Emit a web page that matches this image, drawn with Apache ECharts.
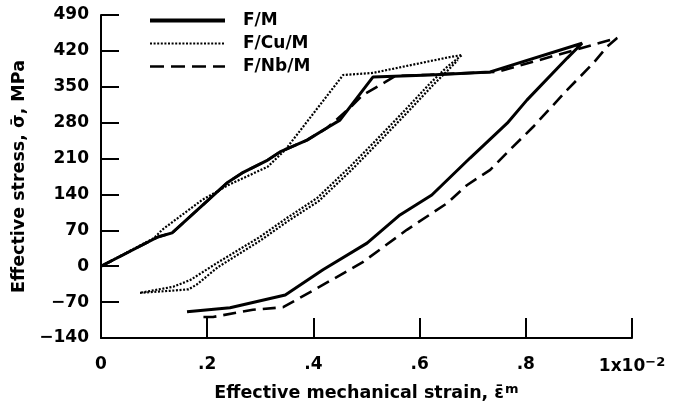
<!DOCTYPE html>
<html>
<head>
<meta charset="utf-8">
<script src="https://cdn.jsdelivr.net/npm/echarts@6/dist/echarts.min.js"></script>
<style>
  html, body { margin: 0; padding: 0; background: #fff; }
  #chart { width: 684px; height: 409px; }
</style>
</head>
<body>
<div id="chart"></div>
<script>
// Stress-strain hysteresis loops for three laminate systems (strain in units of 1e-2).
const seriesNames = ['F/M', 'F/Cu/M', 'F/Nb/M'];

// F/M: loading, then unloading
const fmStrain = [0, 0.107, 0.134, 0.239, 0.266, 0.314, 0.337, 0.388, 0.426, 0.450, 0.512, 0.620, 0.733, 0.906,
                  0.878, 0.802, 0.765, 0.695, 0.623, 0.563, 0.501, 0.418, 0.347, 0.243, 0.162];
const fmStress = [0, 57, 65, 164, 182, 207, 223, 246, 270, 285, 369, 373, 379, 435,
                  406, 324, 279, 211, 139, 100, 45, -7, -56, -81, -89];

// F/Cu/M: loading, unloading, reloading
const cuStrain = [0, 0.100, 0.115, 0.190, 0.239, 0.314, 0.347, 0.456, 0.512, 0.657, 0.680,
                  0.652, 0.620, 0.573, 0.522, 0.469, 0.407, 0.350, 0.299, 0.218, 0.168, 0.136, 0.073,
                  0.130, 0.165, 0.180, 0.220, 0.300, 0.352, 0.410, 0.472, 0.525, 0.576, 0.624, 0.655, 0.672];
const cuStress = [0, 55, 71, 129, 158, 194, 227, 373, 377, 408, 412,
                  389, 357, 305, 250, 194, 133, 94, 57, 6, -27, -40, -52,
                  -48, -45, -36, -2, 50, 88, 127, 188, 244, 299, 352, 384, 402];

// F/Nb/M: loading, then unloading
const nbStrain = [0, 0.107, 0.134, 0.239, 0.266, 0.314, 0.337, 0.388, 0.426, 0.470, 0.493, 0.535, 0.554, 0.746, 0.972,
                  0.953, 0.927, 0.878, 0.814, 0.770, 0.733, 0.689, 0.652, 0.576, 0.493, 0.412, 0.343, 0.286, 0.211, 0.188];
const nbStress = [0, 57, 65, 164, 182, 207, 223, 246, 270, 310, 334, 359, 371, 379, 445,
                  428, 396, 344, 272, 227, 188, 158, 123, 71, 8, -40, -80, -85, -99, -99];

// Axis ticks
const xTicks = [0, 0.2, 0.4, 0.6, 0.8, 1];
const xTickLabels = ['0', '.2', '.4', '.6', '.8', '1x10{sup|\u22122}'];
const yTicks = [-140, -70, 0, 70, 140, 210, 280, 350, 420, 490];

const pairs = (xs, ys) => xs.map((x, i) => [x, ys[i]]);

const FONT = '"DejaVu Sans", "Liberation Sans", sans-serif';
const lineStyles = [
  { color: '#000', width: 3, type: 'solid' },
  { color: '#000', width: 2.2, type: [2, 1.6] },
  { color: '#000', width: 2.6, type: [13, 7] }
];
const legendLineStyles = [
  { color: '#000', width: 4, type: 'solid' },
  { color: '#000', width: 2, type: [2, 1.6] },
  { color: '#000', width: 2.4, type: [14, 7] }
];

const chart = echarts.init(document.getElementById('chart'), null, { renderer: 'canvas' });

chart.setOption({
  animation: false,
  backgroundColor: '#fff',
  grid: { left: 101, right: 52, top: 15, bottom: 71, containLabel: false },
  legend: {
    orient: 'vertical',
    left: 143,
    top: 7,
    itemWidth: 75,
    itemHeight: 14,
    itemGap: 6,
    data: seriesNames.map((n, i) => ({ name: n, lineStyle: legendLineStyles[i] })),
    itemStyle: { opacity: 0 },
    textStyle: { fontFamily: FONT, fontWeight: 'bold', fontSize: 17, color: '#000', padding: [0, 0, 0, 13] }
  },
  xAxis: {
    type: 'value',
    min: 0,
    max: 1,
    interval: 0.2,
    name: 'Effective mechanical strain, \u03b5\u0304{sup|m}',
    nameLocation: 'middle',
    nameGap: 45,
    nameTextStyle: {
      fontFamily: FONT, fontWeight: 'bold', fontSize: 17.5, color: '#000',
      rich: { sup: { fontFamily: FONT, fontWeight: 'bold', fontSize: 13, color: '#000', verticalAlign: 'top', padding: [0, 0, 8, 1] } }
    },
    axisLine: { show: true, onZero: false, lineStyle: { color: '#000', width: 2 } },
    axisTick: { show: true, inside: true, length: 20, lineStyle: { color: '#000', width: 2 } },
    splitLine: { show: false },
    axisLabel: {
      margin: 18,
      fontFamily: FONT, fontWeight: 'bold', fontSize: 17, color: '#000',
      formatter: v => {
        const i = xTicks.findIndex(t => Math.abs(t - v) < 1e-9);
        return i >= 0 ? xTickLabels[i] : '';
      },
      rich: { sup: { fontFamily: FONT, fontWeight: 'bold', fontSize: 13, color: '#000', verticalAlign: 'top', padding: [0, 0, 8, 0] } }
    }
  },
  yAxis: {
    type: 'value',
    min: yTicks[0],
    max: yTicks[yTicks.length - 1],
    interval: 70,
    name: 'Effective stress, \u03c3\u0304, MPa',
    nameLocation: 'middle',
    nameRotate: 90,
    nameGap: 64,
    nameTextStyle: { fontFamily: FONT, fontWeight: 'bold', fontSize: 17.5, color: '#000' },
    axisLine: { show: true, onZero: false, lineStyle: { color: '#000', width: 2 } },
    axisTick: { show: true, inside: true, length: 18, lineStyle: { color: '#000', width: 2 } },
    splitLine: { show: false },
    axisLabel: {
      margin: 12,
      fontFamily: FONT, fontWeight: 'bold', fontSize: 17, color: '#000',
      formatter: v => (v < 0 ? '\u2212' + Math.abs(v) : String(v))
    }
  },
  series: seriesNames.map((n, i) => ({
    name: n,
    type: 'line',
    symbol: 'none',
    showSymbol: false,
    data: [pairs(fmStrain, fmStress), pairs(cuStrain, cuStress), pairs(nbStrain, nbStress)][i],
    lineStyle: lineStyles[i],
    itemStyle: { color: '#000' }
  }))
});
</script>
</body>
</html>
